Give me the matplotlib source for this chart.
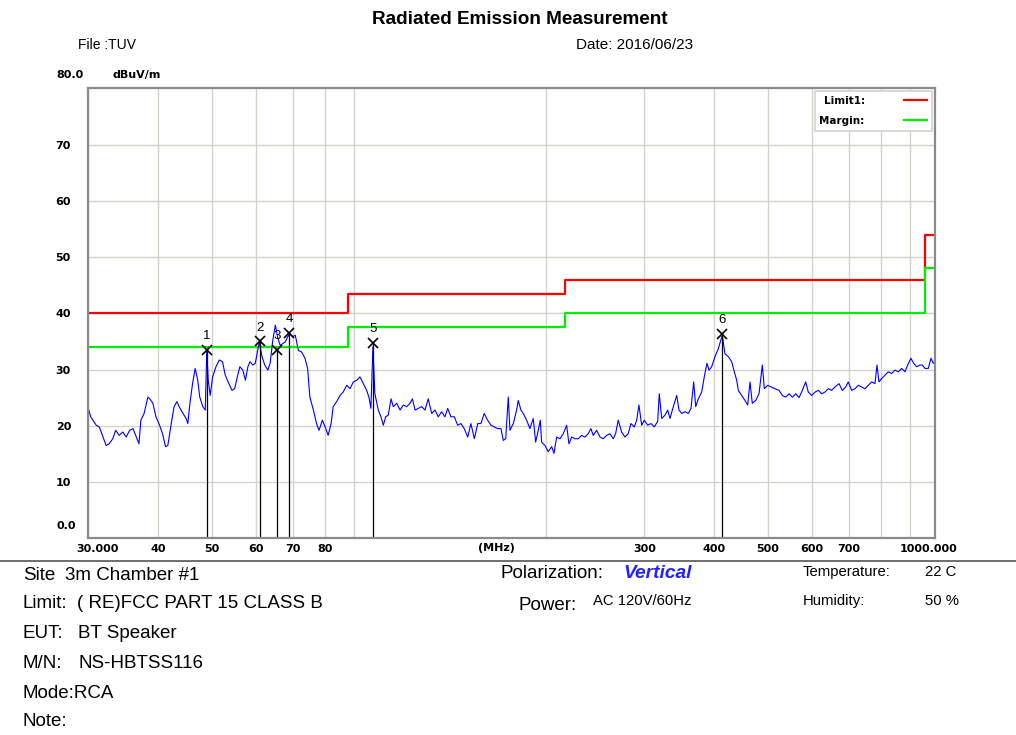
import matplotlib
matplotlib.use("Agg")
import matplotlib.pyplot as plt
from matplotlib.lines import Line2D
from matplotlib.ticker import NullFormatter
from matplotlib.transforms import ScaledTranslation

plt.rcParams['font.family'] = ['Liberation Sans', 'DejaVu Sans']

# Measured emission trace (MHz, dBuV/m)
trace_freq = [
    30.0, 30.3, 31.0, 31.4, 31.8, 32.3, 32.7, 33.2, 33.6, 34.1, 34.6, 35.1, 35.6, 36.1, 36.6, 37.0,
    37.3, 37.8, 38.4, 38.7, 39.2, 39.7, 40.3, 40.8, 41.3, 41.7, 42.3, 42.8, 43.3, 43.7, 44.4, 45.0,
    45.3, 45.7, 46.2, 46.7, 47.2, 47.6, 48.2, 48.7, 49.0, 49.3, 49.7, 50.2, 50.9, 51.6, 52.3, 52.9,
    53.7, 54.4, 55.0, 55.7, 56.2, 56.9, 57.5, 58.1, 58.6, 59.3, 59.9, 60.5, 60.9, 61.6, 62.3, 63.1,
    63.7, 64.4, 65.1, 65.7, 66.4, 67.1, 67.8, 68.5, 69.2, 69.9, 70.7, 71.6, 72.6, 73.6, 74.4, 75.1,
    76.2, 77.2, 78.0, 79.1, 80.2, 81.0, 82.0, 82.7, 83.9, 85.1, 86.2, 87.5, 88.7, 89.9, 91.2, 92.4,
    93.7, 95.0, 95.9, 96.7, 97.5, 98.3, 99.7, 100.8, 101.8, 102.8, 103.9, 105.1, 106.1, 107.6, 109.1,
    110.6, 112.1, 113.7, 114.8, 116.1, 117.7, 119.3, 121.0, 122.6, 124.4, 126.1, 127.8, 129.6, 131.4,
    132.9, 134.7, 136.6, 138.5, 140.4, 142.3, 144.4, 146.3, 148.4, 150.5, 152.5, 154.6, 156.8, 159.0,
    161.2, 163.4, 165.7, 167.3, 169.0, 170.8, 172.0, 174.4, 176.8, 178.0, 180.0, 181.7, 184.3, 186.8,
    189.4, 191.3, 193.4, 195.0, 196.1, 198.8, 201.5, 204.4, 206.4, 208.7, 211.6, 214.5, 217.5, 219.6,
    222.1, 225.1, 228.2, 231.4, 234.6, 237.9, 240.5, 242.8, 246.3, 249.7, 253.1, 256.7, 260.2, 263.8,
    266.4, 269.3, 273.1, 276.9, 280.7, 283.9, 287.8, 290.7, 293.4, 296.8, 300.0, 304.3, 308.4, 312.7,
    317.1, 319.2, 322.4, 326.9, 330.5, 333.7, 338.3, 343.1, 346.4, 350.3, 355.1, 360.0, 364.0, 368.1,
    371.2, 375.2, 380.5, 384.6, 388.9, 392.2, 396.6, 402.0, 407.6, 414.4, 419.0, 424.8, 430.8, 435.5,
    439.9, 442.8, 449.1, 455.3, 460.4, 464.8, 469.2, 475.9, 482.5, 489.1, 493.2, 500.2, 507.1, 515.5,
    524.2, 531.4, 538.9, 546.3, 553.8, 561.7, 569.4, 577.2, 585.4, 591.7, 600.1, 608.4, 616.8, 625.5,
    634.1, 642.8, 651.9, 660.8, 671.9, 681.2, 690.8, 698.3, 708.2, 717.9, 727.8, 738.1, 748.3, 758.6,
    769.3, 779.9, 786.4, 792.9, 801.8, 812.9, 824.1, 835.7, 847.2, 858.9, 871.1, 883.1, 893.0, 905.3,
    915.5, 926.9, 939.7, 948.7, 959.4, 972.6, 983.5, 992.9, 1000.0,
]
trace_level = [
    23.1, 21.6, 20.1, 19.8, 18.3, 16.5, 16.8, 17.7, 19.2, 18.3, 18.9, 18.0, 19.2, 19.5, 18.0, 16.8,
    21.0, 22.2, 25.1, 24.8, 24.0, 21.6, 20.1, 18.6, 16.3, 16.5, 20.4, 23.4, 24.3, 23.4, 22.2, 21.3,
    20.4, 24.0, 27.5, 30.2, 28.1, 25.1, 23.4, 22.8, 33.5, 28.1, 25.4, 28.7, 30.5, 31.7, 31.4, 29.0,
    27.5, 26.3, 26.6, 29.0, 30.5, 29.9, 28.1, 30.5, 31.4, 30.8, 31.1, 33.4, 34.9, 32.3, 30.8, 29.9,
    31.1, 35.2, 37.9, 35.8, 34.3, 34.6, 34.9, 35.8, 36.4, 35.8, 36.1, 33.4, 33.1, 32.0, 30.2, 25.1,
    22.8, 20.4, 19.2, 21.0, 19.5, 18.3, 20.4, 23.4, 24.3, 25.4, 26.0, 27.2, 26.6, 27.8, 28.1, 28.7,
    27.5, 26.3, 25.1, 23.1, 34.0, 25.7, 22.8, 21.6, 20.1, 21.6, 21.9, 24.8, 23.4, 24.0, 22.8,
    23.7, 23.4, 24.0, 24.8, 22.8, 23.1, 23.4, 22.8, 24.8, 22.2, 22.8, 21.6, 22.5, 21.6,
    23.1, 21.6, 21.6, 20.1, 20.4, 19.5, 18.0, 20.4, 17.7, 20.4, 20.4, 22.2, 21.0, 20.1,
    19.8, 19.5, 19.5, 17.4, 17.7, 25.1, 19.2, 20.4, 22.8, 24.5, 22.8, 22.2, 21.0, 19.5,
    21.3, 17.1, 19.2, 21.0, 17.1, 16.5, 15.4, 16.3, 15.1, 18.0, 17.7, 18.6, 20.1, 16.8,
    18.0, 17.7, 17.7, 18.3, 18.0, 18.6, 19.5, 18.3, 19.2, 18.0, 17.7, 18.3, 18.6, 17.7,
    18.6, 21.0, 18.9, 18.0, 18.6, 20.4, 19.8, 21.0, 23.7, 20.1, 21.0, 20.1, 20.4, 19.8,
    20.8, 25.7, 21.3, 21.9, 22.8, 21.3, 23.4, 25.4, 22.8, 22.2, 22.5, 22.2, 23.1, 27.8,
    23.4, 24.8, 26.0, 28.7, 31.1, 29.9, 30.5, 32.3, 33.7, 36.1, 32.8, 32.3, 31.4, 29.6,
    28.1, 26.3, 25.4, 24.5, 23.7, 27.8, 24.0, 24.5, 25.7, 30.8, 26.6, 27.2, 26.9, 26.6,
    26.3, 25.4, 25.1, 25.7, 25.1, 25.7, 25.0, 26.3, 27.8, 26.0, 25.4, 26.0, 26.3, 25.7,
    26.0, 26.6, 26.3, 26.9, 27.5, 26.3, 26.9, 27.8, 26.3, 26.6, 27.2, 26.9, 26.6, 27.2,
    27.8, 27.5, 30.8, 27.8, 28.4, 29.0, 29.6, 29.3, 29.9, 29.6, 30.2, 29.6, 30.8, 32.0,
    31.1, 30.5, 30.8, 30.8, 30.2, 30.2, 32.0, 31.1, 31.5,
]

# FCC Part 15 class B limit and 6 dB margin line
limit_freq = [30, 88, 216, 960, 1000]
limit_level = [40.0, 43.5, 46.0, 54.0, 54.0]
margin_level = [34.0, 37.5, 40.0, 48.0, 48.0]

# Marked peaks
peak_id = ['1', '2', '3', '4', '5', '6']
peak_freq = [49.0, 61.1, 65.5, 68.9, 97.6, 414.4]
peak_level = [33.5, 35.0, 33.5, 36.5, 34.7, 36.3]

x_ticks = [30, 40, 50, 60, 70, 80, 300, 400, 500, 600, 700, 1000]
x_labels = ['30.000', '40', '50', '60', '70', '80', '300', '400', '500', '600', '700', '1000.000']
y_ticks = [10, 20, 30, 40, 50, 60, 70]

W, H = 1016, 735


def px(x, y):
    return x / W, 1 - y / H


fig = plt.figure(figsize=(W / 100, H / 100), dpi=100)
ax = fig.add_axes([88.3 / W, 1 - 538.3 / H, 846.7 / W, 450 / H])

grid_c = '#d6d2ca'
axis_font = dict(family='DejaVu Sans', weight='bold', size=8)

ax.set_xscale('log')
ax.set_xlim(30, 1000)
ax.set_ylim(0, 80)
ax.set_xticks(x_ticks)
ax.set_xticklabels(x_labels, fontdict=axis_font)
ax.xaxis.set_minor_formatter(NullFormatter())
ax.set_yticks(y_ticks)
ax.set_yticklabels([str(v) for v in y_ticks], fontdict=axis_font, ha='left')
ax.tick_params(axis='both', which='both', length=0)
ax.tick_params(axis='y', pad=23.5)
ax.tick_params(axis='x', pad=4)
ax.grid(True, which='both', axis='x', color=grid_c, lw=1.0)
ax.grid(True, which='major', axis='y', color=grid_c, lw=1.0)
ax.set_axisbelow(True)
for s in ax.spines.values():
    s.set_color('#8a8a8a')
    s.set_linewidth(1.6)

# end labels sit slightly inward
xl = ax.get_xticklabels()
xl[0].set_transform(xl[0].get_transform() + ScaledTranslation(9 / 100, 0, fig.dpi_scale_trans))
xl[-1].set_transform(xl[-1].get_transform() + ScaledTranslation(-6 / 100, 0, fig.dpi_scale_trans))

ax.text(-0.0381, 1.029, '80.0', transform=ax.transAxes, fontdict=axis_font, va='center', ha='left')
ax.text(0.028, 1.029, 'dBuV/m', transform=ax.transAxes, fontdict=axis_font, va='center', ha='left')
ax.text(-0.0381, 0.027, '0.0', transform=ax.transAxes, fontdict=axis_font, va='center', ha='left')
ax.text(0.482, -0.022, '(MHz)', transform=ax.transAxes, fontdict=axis_font, va='center', ha='center')

# limit lines
ax.step(limit_freq, limit_level, where='post', color='#ff0000', lw=1.6, label='Limit1:')
ax.step(limit_freq, margin_level, where='post', color='#00ee00', lw=1.6, label='Margin:')

# emission trace
ax.plot(trace_freq, trace_level, color='#0000ff', lw=0.8)

# peak markers
for pid, f, lv in zip(peak_id, peak_freq, peak_level):
    ax.plot([f, f], [0, lv], color='black', lw=0.9)
    ax.plot(f, lv, marker='x', ms=6.5, mew=1.2, color='black')
    ax.annotate(pid, (f, lv), xytext=(0, 10), textcoords='offset points',
                ha='center', va='center', fontsize=9.5)

leg = ax.legend(loc='upper right', markerfirst=False, frameon=True, fancybox=False,
                handlelength=2.2, handletextpad=3.8, borderaxespad=0.3, borderpad=0.45,
                labelspacing=0.95, prop={'family': 'DejaVu Sans', 'weight': 'bold', 'size': 7.5})
leg.get_frame().set_edgecolor(grid_c)
leg.get_frame().set_linewidth(1.2)
leg.get_frame().set_alpha(1)

# header
fig.text(*px(520, 19), 'Radiated Emission Measurement', fontsize=13.6, fontweight='bold',
         ha='center', va='center')
fig.text(*px(78, 45), 'File :TUV', fontsize=10, ha='left', va='center')
fig.text(*px(576, 45), 'Date: 2016/06/23', fontsize=11, ha='left', va='center')

# separator under the chart
fig.add_artist(Line2D([0, 1], [1 - 560.5 / H] * 2, transform=fig.transFigure, color='#555555', lw=1.2))

# test information block
info = dict(fontsize=13.5, ha='left', va='center')
small = dict(fontsize=10.7, ha='left', va='center')
fig.text(*px(23, 575), 'Site', **info)
fig.text(*px(65, 575), '3m Chamber #1', **info)
fig.text(*px(23, 604), 'Limit:', **info)
fig.text(*px(77, 604), '( RE)FCC PART 15 CLASS B', **info)
fig.text(*px(23, 633), 'EUT:', **info)
fig.text(*px(78, 633), 'BT Speaker', **info)
fig.text(*px(23, 663), 'M/N:', **info)
fig.text(*px(78, 663), 'NS-HBTSS116', **info)
fig.text(*px(23, 693), 'Mode:RCA', **info)
fig.text(*px(23, 722), 'Note:', **info)

fig.text(*px(500, 574), 'Polarization:', **info)
fig.text(*px(623, 574), 'Vertical', fontsize=13.8, fontweight='bold', style='italic', color='#2222ff',
         ha='left', va='center')
fig.text(*px(518, 605), 'Power:', **info)
fig.text(*px(593, 601), 'AC 120V/60Hz', **small)
fig.text(*px(803, 572), 'Temperature:', **small)
fig.text(*px(925, 572), '22 C', **small)
fig.text(*px(803, 601), 'Humidity:', **small)
fig.text(*px(925, 601), '50 %', **small)

fig.savefig('out.png', dpi=100, facecolor='white')
